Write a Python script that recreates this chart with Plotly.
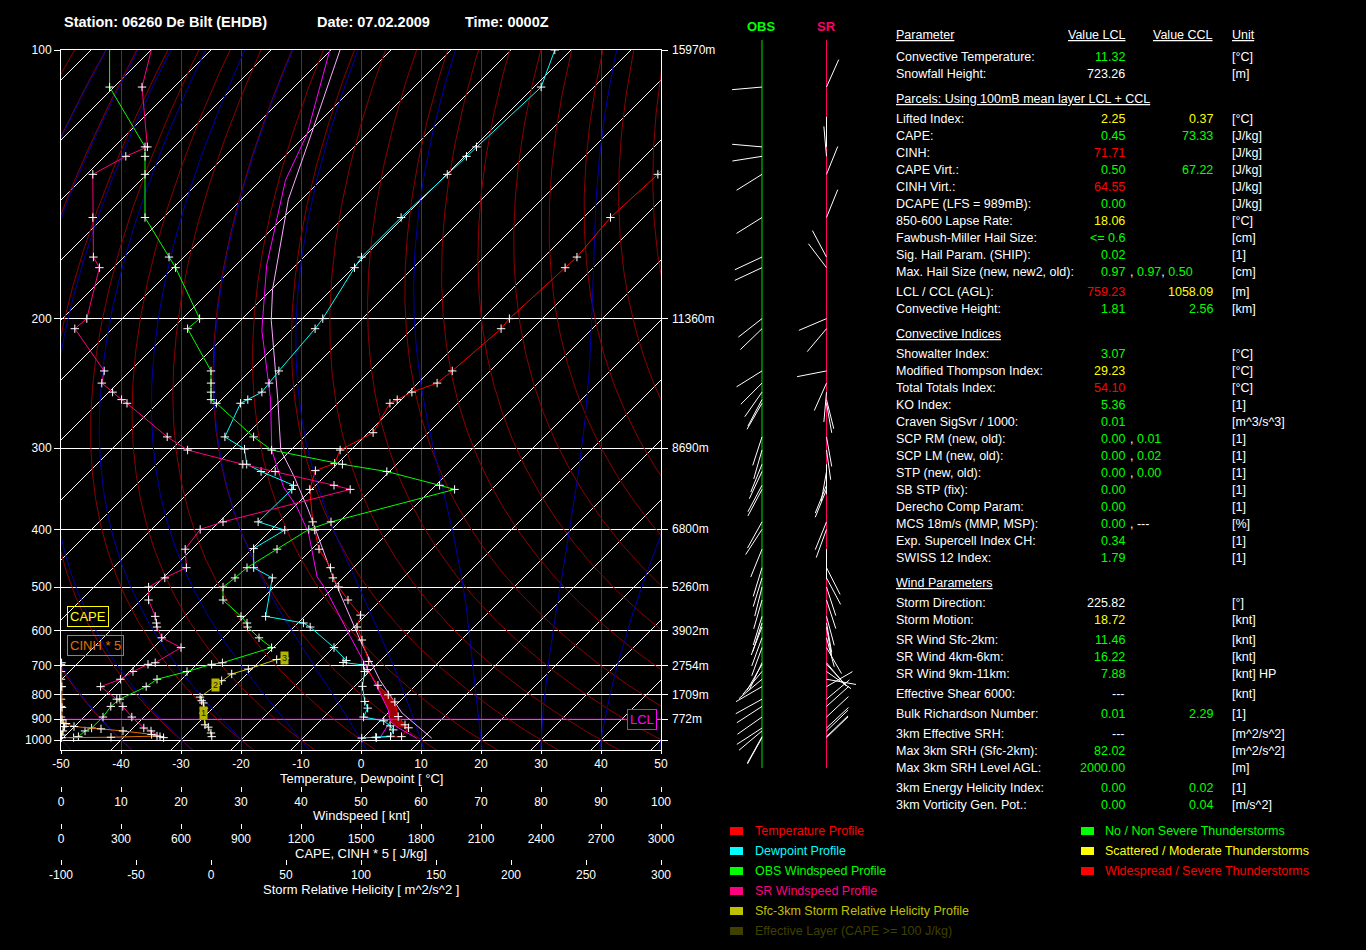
import numpy as np
import plotly.graph_objects as go

FONT = "Liberation Sans, Arial, sans-serif"
WIDTH, HEIGHT = 1366, 950

# ---------------------------------------------------------------- data
p_levels = [100, 200, 300, 400, 500, 600, 700, 800, 900, 1000]
level_heights = [15970, 11360, 8690, 6800, 5260, 3902, 2754, 1709, 772]

temp_p = [988, 983, 940, 926, 889, 828, 800, 765, 712, 686, 624, 590, 561, 527, 500,
          482, 463, 431, 401, 389, 346, 324, 316, 302, 285, 259, 256, 250, 243, 234,
          206, 200, 173, 168, 151, 135, 109]
temp_t = [2.2, 6.2, 5.9, 4.8, 2.3, -0.7, -3.0, -6.3, -10.7, -11.8, -16.5, -19.5, -20.9, -25.5, -29.2,
          -31.7, -33.8, -38.8, -42.7, -44.4, -50.3, -52.5, -50.5, -51.8, -49.2, -51.3, -50.7, -49.5, -46.8, -46.3,
          -45.2, -45.5, -44.7, -44.5, -45.5, -44.8, -46.0]

dew_p = [990, 986, 981, 950, 931, 908, 891, 853, 826, 769, 718, 697, 689, 683, 645,
         590, 580, 564, 482, 463, 430, 401, 389, 346, 341, 325, 317, 301, 289, 259,
         256, 250, 243, 234, 206, 200, 173, 168, 151, 135, 129, 126, 109, 100]
dew_t = [-0.2, 2.0, 4.3, 3.7, 2.5, 0.6, -3.4, -4.2, -5.8, -8.7, -10.8, -12.1, -15.9, -15.7, -19.9,
         -27.3, -29.1, -36.5, -41.8, -46.6, -49.8, -47.7, -53.5, -53.3, -53.7, -61.4, -65.0, -67.9, -73.2, -76.2,
         -75.6, -74.5, -74.8, -75.2, -76.2, -76.6, -79.8, -80.4, -80.4, -79.9, -79.7, -79.6, -78.8, -82.7]

parcel_p = [991, 936, 911, 860, 756, 615, 506, 480, 405, 368, 343, 302, 256, 207, 172, 137, 122, 100]
parcel_t = [9.0, 3.8, 1.8, -0.5, -7.2, -19.0, -30.8, -34.5, -43.3, -49.6, -55.1, -63.2, -71.8,
            -84.8, -94.8, -105.9, -110.0, -120.2]

vparcel_p = [991, 873, 746, 632, 533, 479, 396, 372, 331, 302, 256, 201, 184, 144, 122, 100]
vparcel_t = [11.5, 2.3, -6.9, -16.1, -25.7, -32.0, -43.3, -47.2, -55.0, -61.7, -70.6, -84.9,
             -89.8, -102.2, -109.3, -118.5]

mix_p = [989, 905]
mix_t = [2.8, 1.7]
lcl_p = 901
cin_base, cin_top = 940, 756

wind_p = [988, 983, 955, 941, 891, 846, 817, 770, 744, 718, 695, 690, 645, 618, 590,
          580, 564, 527, 500, 482, 463, 431, 400, 389, 346, 341, 325, 317, 302, 289,
          259, 256, 250, 243, 234, 206, 200, 173, 168, 151, 135, 129, 126, 109, 95]
obs_spd = [2.1, 2.9, 4.0, 5.1, 7.0, 8.3, 9.8, 14.2, 16.0, 21.0, 25.1, 26.9, 35.1, 33.0, 31.1,
           31.0, 30.0, 27.0, 27.0, 29.0, 31.0, 36.0, 41.3, 45.0, 65.6, 63.1, 54.3, 46.9, 35.1, 32.1,
           25.9, 25.0, 25.0, 25.0, 25.0, 21.1, 23.1, 19.1, 18.0, 14.0, 14.0, 14.0, 14.0, 8.1, 8.1]
obs_dir = [209, 209, 230, 237, 235, 237, 241, 240, 230, 220, 210, 205, 200, 200, 201,
           198, 197, 196, 194, 197, 197, 202, 213, 209, 208, 208, 205, 202, 196, 198,
           210, 208, 215, 225, 238, 226, 232, 245, 245, 238, 238, 261, 275, 265, 265]
sr_spd = [17.1, 16.5, 15.0, 13.8, 11.8, 10.3, 9.3, 6.6, 9.9, 12.0, 14.5, 15.7, 20.0, 16.8, 16.0,
          15.9, 15.7, 14.6, 14.6, 17.3, 20.9, 20.7, 23.2, 27.0, 48.2, 45.5, 35.7, 30.3, 21.1, 17.7,
          11.0, 10.1, 8.6, 6.8, 7.2, 2.3, 4.3, 6.4, 5.4, 5.3, 5.3, 10.8, 14.4, 13.5, 16.0]
sr_dir = [46, 46, 46, 47, 47, 48, 50, 60, 100, 125, 137, 140, 150, 165, 170,
          170, 165, 162, 162, 152, 153, 180, 200, 202, 202, 202, 190, 180, 172, 170,
          170, 166, 185, 204, 259, 220, 247, 323, 332, 22, 22, 355, 0, 24, 24]

srh_p = [983, 965, 937, 926, 874, 853, 832, 823, 809, 765, 749, 726, 710, 680, 676]
srh_val = [0.5, 0.0, -1.8, -4.0, -5.1, -4.7, -5.1, -6.2, -7.3, 3.3, 7.1, 13.8, 24.9, 43.8, 49.3]
km_p = [874, 765, 676]
km_txt = ["1", "2", "3"]

cape_p = [988, 975, 955, 934, 920, 903, 891, 846, 817, 770, 744, 718, 695]
cape_val = [0, 3, 10, 18, 12, 0, 0, 0, 0, 0, 0, 0, 0]
cinh_p = [988, 986, 980, 972, 955, 945, 934, 920, 903, 850, 770, 690]
cinh_val = [0.6, 50, 96, 90.6, 62, 40, 13, 5, 1, 1, 0.8, 0.6]

temp_ticks = list(range(-50, 51, 10))
wind_ticks = list(range(0, 101, 10))
cape_ticks = list(range(0, 3001, 300))
srh_ticks = list(range(-100, 301, 50))

G, Y, R, W = "#00ff00", "#ffff00", "#ff0000", "#ffffff"

# table: sections -> groups -> rows (label, lcl value, extra values, ccl value, unit)
table = [
    ("Parameter", [
        [("Convective Temperature:", ("11.32", G), [], None, "[°C]"),
         ("Snowfall Height:", ("723.26", W), [], None, "[m]")],
    ]),
    ("Parcels: Using 100mB mean layer LCL + CCL", [
        [("Lifted Index:", ("2.25", Y), [], ("0.37", Y), "[°C]"),
         ("CAPE:", ("0.45", G), [], ("73.33", G), "[J/kg]"),
         ("CINH:", ("71.71", R), [], None, "[J/kg]"),
         ("CAPE Virt.:", ("0.50", G), [], ("67.22", G), "[J/kg]"),
         ("CINH Virt.:", ("64.55", R), [], None, "[J/kg]"),
         ("DCAPE (LFS = 989mB):", ("0.00", G), [], None, "[J/kg]"),
         ("850-600 Lapse Rate:", ("18.06", Y), [], None, "[°C]"),
         ("Fawbush-Miller Hail Size:", ("&lt;= 0.6", G), [], None, "[cm]"),
         ("Sig. Hail Param. (SHIP):", ("0.02", G), [], None, "[1]"),
         ("Max. Hail Size (new, new2, old):", ("0.97", G), [("0.97", G), ("0.50", G)], None, "[cm]")],
        [("LCL / CCL (AGL):", ("759.23", R), [], ("1058.09", Y), "[m]"),
         ("Convective Height:", ("1.81", G), [], ("2.56", G), "[km]")],
    ]),
    ("Convective Indices", [
        [("Showalter Index:", ("3.07", G), [], None, "[°C]"),
         ("Modified Thompson Index:", ("29.23", Y), [], None, "[°C]"),
         ("Total Totals Index:", ("54.10", R), [], None, "[°C]"),
         ("KO Index:", ("5.36", G), [], None, "[1]"),
         ("Craven SigSvr / 1000:", ("0.01", G), [], None, "[m^3/s^3]"),
         ("SCP RM (new, old):", ("0.00", G), [("0.01", G)], None, "[1]"),
         ("SCP LM (new, old):", ("0.00", G), [("0.02", G)], None, "[1]"),
         ("STP (new, old):", ("0.00", G), [("0.00", G)], None, "[1]"),
         ("SB STP (fix):", ("0.00", G), [], None, "[1]"),
         ("Derecho Comp Param:", ("0.00", G), [], None, "[1]"),
         ("MCS 18m/s (MMP, MSP):", ("0.00", G), [("---", W)], None, "[%]"),
         ("Exp. Supercell Index CH:", ("0.34", G), [], None, "[1]"),
         ("SWISS 12 Index:", ("1.79", G), [], None, "[1]")],
    ]),
    ("Wind Parameters", [
        [("Storm Direction:", ("225.82", W), [], None, "[°]"),
         ("Storm Motion:", ("18.72", Y), [], None, "[knt]")],
        [("SR Wind Sfc-2km:", ("11.46", G), [], None, "[knt]"),
         ("SR Wind 4km-6km:", ("16.22", G), [], None, "[knt]"),
         ("SR Wind 9km-11km:", ("7.88", G), [], None, "[knt] HP")],
        [("Effective Shear 6000:", ("---", W), [], None, "[knt]")],
        [("Bulk Richardson Number:", ("0.01", G), [], ("2.29", G), "[1]")],
        [("3km Effective SRH:", ("---", W), [], None, "[m^2/s^2]"),
         ("Max 3km SRH (Sfc-2km):", ("82.02", G), [], None, "[m^2/s^2]"),
         ("Max 3km SRH Level AGL:", ("2000.00", G), [], None, "[m]")],
        [("3km Energy Helicity Index:", ("0.00", G), [], ("0.02", G), "[1]"),
         ("3km Vorticity Gen. Pot.:", ("0.00", G), [], ("0.04", G), "[m/s^2]")],
    ]),
]

legend_left = [("Temperature Profile", "#ff0000"), ("Dewpoint Profile", "#00ffff"),
               ("OBS Windspeed Profile", "#00ff00"), ("SR Windspeed Profile", "#ff0080"),
               ("Sfc-3km Storm Relative Helicity Profile", "#c0c000"),
               ("Effective Layer (CAPE >= 100 J/kg)", "#404000")]
legend_right = [("No / Non Severe Thunderstorms", "#00ff00"),
                ("Scattered / Moderate Thunderstorms", "#ffff00"),
                ("Widespread / Severe Thunderstorms", "#ff0000")]


# ---------------------------------------------------------------- helpers
def zp(p):
    # vertical position (pixels above the 1000 hPa line), p^-0.35 scale
    p = np.asarray(p, dtype=float)
    return 690.0 * (p ** -0.35 - 1000.0 ** -0.35) / (100.0 ** -0.35 - 1000.0 ** -0.35)


def skew(t, p):
    return np.asarray(t, dtype=float) + zp(p) / 6.0


def px(x):
    return x / WIDTH


def py(y):
    return 1 - y / HEIGHT


fig = go.Figure()


def add_line(x, y, color, width=1, xaxis="x", yaxis="y", markers=False, **kw):
    fig.add_trace(go.Scatter(
        x=x, y=y, mode="lines+markers" if markers else "lines",
        line=dict(color=color, width=width),
        marker=dict(symbol="cross-thin", size=6, color="white", line=dict(color="white", width=1)),
        xaxis=xaxis, yaxis=yaxis, hoverinfo="skip", showlegend=False, **kw))


def joined(curves):
    xs, ys = [], []
    for cx, cy in curves:
        xs += list(cx) + [None]
        ys += list(cy) + [None]
    return xs, ys


# ---------------------------------------------------------------- background lines
pp = np.geomspace(1060, 95, 240)
zz = zp(pp)

iso = [([t - 10 / 6.0, t + 690 / 6.0], [-10, 690]) for t in range(-170, 60, 10)]
add_line(*joined(iso), "white")

dry = []
for th in range(-70, 140, 10):
    t = (th + 273.15) * (pp / 1000.0) ** 0.2857 - 273.15
    dry.append((t + zz / 6.0, zz))
add_line(*joined(dry), "#8c0000")


def dtdp(p, T):
    es = 6.112 * np.exp(17.67 * (T - 273.15) / (T - 29.65))
    rs = 0.622 * es / (p - es)
    return (287.04 * T + 2.501e6 * rs) / (p * (1005.7 + 2.501e6 ** 2 * rs * 0.622 / (287.04 * T * T)))


def integrate(pseq, T):
    out = [T.copy()]
    for i in range(len(pseq) - 1):
        p, h = pseq[i], pseq[i + 1] - pseq[i]
        k1 = dtdp(p, T)
        k2 = dtdp(p + h / 2, T + h / 2 * k1)
        k3 = dtdp(p + h / 2, T + h / 2 * k2)
        k4 = dtdp(p + h, T + h * k3)
        T = T + h / 6 * (k1 + 2 * k2 + 2 * k3 + k4)
        out.append(T.copy())
    return np.array(out)


t0 = np.arange(-50, 51, 10) + 273.15
p_up = np.arange(1000, 94, -2.0)
p_dn = np.arange(1000, 1062, 2.0)
T_up = integrate(p_up, t0)
T_dn = integrate(p_dn, t0)
moist = []
for k in range(len(t0)):
    ps = np.concatenate([p_dn[::-1], p_up[1:]])
    ts = np.concatenate([T_dn[::-1, k], T_up[1:, k]]) - 273.15
    moist.append((skew(ts, ps), zp(ps)))
add_line(*joined(moist), "#0000a8")

# ---------------------------------------------------------------- profiles
tp, tt = np.array(temp_p, float), np.array(temp_t, float)
pcp, pct = np.array(parcel_p, float), np.array(parcel_t, float)
m_env = (tp <= cin_base) & (tp >= cin_top)
m_par = (pcp <= cin_base) & (pcp >= cin_top)
fig.add_trace(go.Scatter(
    x=np.concatenate([skew(tt[m_env], tp[m_env]), skew(pct[m_par], pcp[m_par])[::-1]]),
    y=np.concatenate([zp(tp[m_env]), zp(pcp[m_par])[::-1]]),
    fill="toself", fillcolor="#a00000", mode="lines", line=dict(width=0),
    hoverinfo="skip", showlegend=False))

# LCL line
add_line([-50, 50], [zp(lcl_p)] * 2, "#ff00ff")

add_line(skew(vparcel_t, vparcel_p), zp(vparcel_p), "#ffa8ff")
add_line(skew(parcel_t, parcel_p), zp(parcel_p), "#ff00ff")
add_line(skew(mix_t, mix_p), zp(mix_p), "#ff00ff")
add_line(skew(temp_t, temp_p), zp(temp_p), "#ff0000", markers=True)
add_line(skew(dew_t, dew_p), zp(dew_p), "#00ffff", markers=True)

add_line(obs_spd, zp(wind_p), "#00ff00", xaxis="x2", markers=True)
add_line(sr_spd, zp(wind_p), "#ff0080", xaxis="x2", markers=True)
add_line(srh_val, zp(srh_p), "#c8c800", xaxis="x4", markers=True)
add_line(cape_val, zp(cape_p), "#ffff00", xaxis="x3", markers=True)
add_line([v * 5 for v in cinh_val], zp(cinh_p), "#e07000", xaxis="x3", markers=True)

# ---------------------------------------------------------------- wind sticks
OBS_X, SR_X, STICK = 762, 826.5, 30
for staff, dirs, col in [(OBS_X, obs_dir, "#00dd00"), (SR_X, sr_dir, "#ff0066")]:
    add_line([staff, staff], [-28, 700], col, xaxis="x5", yaxis="y2")
    sticks = []
    for p, d in zip(wind_p, dirs):
        r = np.radians(d)
        z = float(zp(p))
        sticks.append(([staff, staff + STICK * np.sin(r)], [z, z + STICK * np.cos(r)]))
    add_line(*joined(sticks), "white", xaxis="x5", yaxis="y2")

# ---------------------------------------------------------------- annotations
ann = []


def text(x, y, s, color="white", size=12.5, anchor="left", **kw):
    ann.append(dict(x=px(x), y=py(y), xref="paper", yref="paper", text=s, showarrow=False,
                    xanchor=anchor, yanchor="middle",
                    font=dict(family=FONT, size=size, color=color), **kw))


text(62, 22, "<b>Station: 06260 De Bilt (EHDB)</b>", size=14.5)
text(315, 22, "<b>Date: 07.02.2009</b>", size=14.5)
text(463, 22, "<b>Time: 0000Z</b>", size=14.5)

for p, h in zip(p_levels, level_heights):
    ann.append(dict(x=px(670), y=float(zp(p)), xref="paper", yref="y", text=f"{h}m",
                    showarrow=False, xanchor="left", yanchor="middle",
                    font=dict(family=FONT, size=12, color="white")))

text(361, 778, "Temperature, Dewpoint [ °C]", size=13, anchor="center")
text(361, 815, "Windspeed [ knt]", size=13, anchor="center")
text(361, 853, "CAPE, CINH * 5 [ J/kg]", size=13, anchor="center")
text(361, 889, "Storm Relative Helicity [ m^2/s^2 ]", size=13, anchor="center")

text(67, 616, "CAPE", color="#ffff00", size=13, bordercolor="#ffff00", borderwidth=1, borderpad=2)
text(67, 645, "CINH * 5", color="#e07000", size=13, bordercolor="#e07000", borderwidth=1, borderpad=2)
ann.append(dict(x=px(627), y=float(zp(lcl_p)), xref="paper", yref="y", text="LCL",
                showarrow=False, xanchor="left", yanchor="middle", bgcolor="black",
                bordercolor="#ff00ff", borderwidth=1, borderpad=2,
                font=dict(family=FONT, size=13, color="#ff00ff")))

for p, lbl in zip(km_p, km_txt):
    i = srh_p.index(p)
    ann.append(dict(x=srh_val[i], y=float(zp(p)), xref="x4", yref="y", text=lbl, showarrow=False,
                    xanchor="center", yanchor="middle", bgcolor="#b4b400", borderpad=1,
                    font=dict(family=FONT, size=9, color="#202000")))

text(761, 27, "<b>OBS</b>", color="#00ff00", size=13, anchor="center")
text(826, 27, "<b>SR</b>", color="#ff0066", size=13, anchor="center")

# table
y = 35
for si, (header, groups) in enumerate(table):
    if si:
        y += 25
    text(894, y, f"<u>{header}</u>")
    if si == 0:
        text(1127, y, "<u>Value LCL</u>", anchor="right")
        text(1215, y, "<u>Value CCL</u>", anchor="right")
        text(1230, y, "<u>Unit</u>")
    y += 22 if si == 0 else 20
    for gi, group in enumerate(groups):
        if gi:
            y += 20
        for ri, (label, lcl, extra, ccl, unit) in enumerate(group):
            if ri:
                y += 17
            text(894, y, label)
            text(1127, y, lcl[0], color=lcl[1], anchor="right")
            if extra:
                s = "".join(f", <span style='color:{c}'>{v}</span>" for v, c in extra)
                text(1128, y, s)
            if ccl:
                text(1215, y, ccl[0], color=ccl[1], anchor="right")
            text(1230, y, unit)

shapes = []
for i, (lbl, col) in enumerate(legend_left):
    yy = 831 + 20 * i
    shapes.append(dict(type="rect", xref="paper", yref="paper", x0=px(730), x1=px(743),
                       y0=py(yy - 4), y1=py(yy + 4), fillcolor=col, line=dict(width=0)))
    text(753, yy, lbl, color=col)
for i, (lbl, col) in enumerate(legend_right):
    yy = 831 + 20 * i
    shapes.append(dict(type="rect", xref="paper", yref="paper", x0=px(1081), x1=px(1094),
                       y0=py(yy - 4), y1=py(yy + 4), fillcolor=col, line=dict(width=0)))
    text(1103, yy, lbl, color=col)

# ---------------------------------------------------------------- axes
tf = dict(family=FONT, size=12, color="white")
X0, X1 = px(61), px(661)


def extra_axis(pos, ticks_):
    return dict(overlaying="x", anchor="free", position=py(pos), domain=[X0, X1],
                range=[ticks_[0], ticks_[-1]], tickvals=ticks_, ticktext=[str(v) for v in ticks_],
                ticks="outside", ticklen=5, tickcolor="white", showgrid=False, zeroline=False,
                showline=False, tickfont=tf, side="bottom", fixedrange=True, automargin=False)


fig.update_layout(
    template="none", width=WIDTH, height=HEIGHT, margin=dict(l=0, r=0, t=0, b=0),
    paper_bgcolor="black", plot_bgcolor="black", showlegend=False,
    annotations=ann, shapes=shapes,
    xaxis=dict(domain=[X0, X1], range=[-50, 50], tickvals=temp_ticks,
               ticktext=[str(v) for v in temp_ticks],
               ticks="outside", ticklen=3, tickcolor="white", showgrid=True, gridcolor="#006400",
               gridwidth=1, zeroline=False, showline=True, linecolor="white", mirror=True,
               tickfont=tf, anchor="y", fixedrange=True, automargin=False),
    yaxis=dict(domain=[py(750), py(50)], range=[-10, 690], tickvals=[float(zp(p)) for p in p_levels],
               ticktext=[str(p) for p in p_levels], ticks="outside", ticklen=6, tickcolor="white",
               showgrid=True, gridcolor="white", gridwidth=1, zeroline=False, showline=True,
               linecolor="white", mirror="ticks", tickfont=tf, anchor="x", fixedrange=True,
               automargin=False),
    xaxis2=extra_axis(786, wind_ticks),
    xaxis3=extra_axis(823, cape_ticks),
    xaxis4=extra_axis(859, srh_ticks),
    xaxis5=dict(domain=[px(720), px(870)], range=[720, 870], visible=False, anchor="y2",
                fixedrange=True),
    yaxis2=dict(domain=[py(768), py(40)], range=[-28, 700], visible=False, anchor="x5",
                fixedrange=True),
)

fig.write_html("out.html", config={"displayModeBar": False},
               post_script="document.body.style.margin='0';")
